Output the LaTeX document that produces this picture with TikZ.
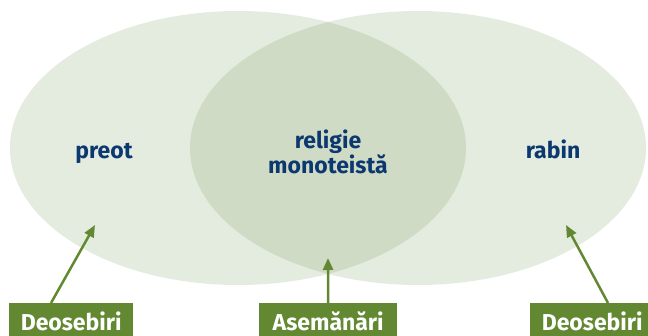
\documentclass[tikz,border=0pt]{standalone}
\usepackage{fontspec}
\setmainfont{Fira Sans}
\usetikzlibrary{arrows.meta,positioning}
\definecolor{verde}{RGB}{98,137,50}
\definecolor{albastru}{RGB}{12,56,112}
\definecolor{cerc}{RGB}{132,162,108}
\tikzstyle{multime} = [fill=cerc, fill opacity=0.22]
\tikzstyle{eticheta} = [font=\fontsize{23}{25}\selectfont\bfseries, text=albastru, align=center, inner sep=0pt]
\tikzstyle{caseta} = [fill=verde, text=white, font=\fontsize{23}{26}\selectfont\bfseries, anchor=north west, inner xsep=0pt, inner ysep=11pt, text height=16pt, text depth=20pt]
\tikzstyle{sageata} = [verde, line width=2.5pt, -{Triangle[length=12pt,width=10pt]}]

\begin{document}
\begin{tikzpicture}[x=1pt,y=-1pt]

	\useasboundingbox (0,0) rectangle (648,335);

	\fill[multime] (238,148) ellipse [x radius=228pt, y radius=137pt];
	\fill[multime] (418,148) ellipse [x radius=228pt, y radius=137pt];

	\node[eticheta, anchor=base] (preot) at (104,158) {preot};
	\node[eticheta] (religie) at (328,152) {religie\\monoteistă};
	\node[eticheta, anchor=base] (rabin) at (553,158) {rabin};

	\node[caseta, minimum width=124pt] (deoStanga) at (9,303) {Deosebiri};
	\node[caseta, minimum width=138pt] (asemanari) at (259,303) {Asemănări};
	\node[caseta, minimum width=124pt] (deoDreapta) at (530,303) {Deosebiri};

	\coordinate (tintaStanga) at (95,225);
	\coordinate (tintaMijloc) at (328,258);
	\coordinate (tintaDreapta) at (566,225);

	\draw[sageata] ([xshift=42pt]deoStanga.north west) -- (tintaStanga);
	\draw[sageata] (asemanari.north) -- (tintaMijloc);
	\draw[sageata] ([xshift=78pt]deoDreapta.north west) -- (tintaDreapta);

\end{tikzpicture}
\end{document}
